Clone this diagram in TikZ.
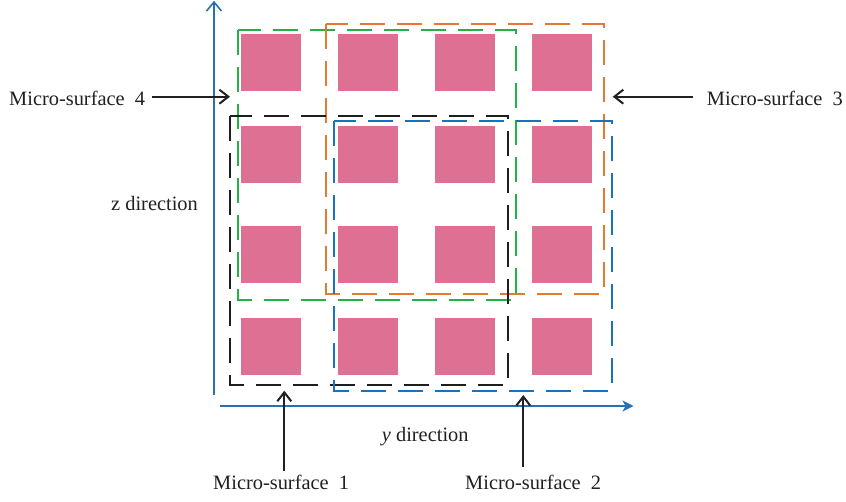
\documentclass[tikz,border=0pt]{standalone}
\usepackage{fontspec}
\setmainfont{Liberation Serif}
\usetikzlibrary{arrows.meta}
\definecolor{tilepink}{RGB}{222,112,147}
\definecolor{msgreen}{RGB}{36,178,72}
\definecolor{msorange}{RGB}{226,122,52}
\definecolor{msblue}{RGB}{24,114,190}
\definecolor{msblack}{RGB}{30,30,30}
\definecolor{axisblue}{RGB}{40,112,176}
\definecolor{inkgray}{RGB}{35,31,32}
\tikzset{
  tile/.style={fill=tilepink, draw=none, anchor=north west, inner sep=0pt,
               minimum width=60pt, minimum height=57.5pt},
  surf/.style={line width=2.2pt, dash pattern=on 25pt off 12pt},
  axisline/.style={draw=axisblue, line width=1.6pt},
  ptr/.style={draw=inkgray, line width=2pt,
              -{Straight Barb[length=9pt,width=14pt,line width=2pt]}},
  lbl/.style={text=inkgray, font=\fontsize{20.4}{24}\selectfont, inner sep=0pt}
}
\begin{document}
\begin{tikzpicture}[x=1pt,y=-1pt]
\useasboundingbox (0,0) rectangle (846,501);

% grid of cells
\foreach \c/\x in {1/241,2/338,3/435,4/532}{
  \foreach \r/\y in {1/33.3,2/125.7,3/225.7,4/317.7}{
    \node[tile] (t\r\c) at (\x,\y) {};
  }
}

% micro-surface windows
\draw[surf, msgreen]  (237.7,30)   rectangle (516,300);
\draw[surf, msorange] (326,24.3)   rectangle (604,294);
\draw[surf, msblack]  (229.7,115.7) rectangle (508,385);
\draw[surf, msblue]   (334,121.3)  rectangle (612.3,390.7);

% axes
\coordinate (zbase) at (214,395);
\coordinate (ztip)  at (214,0.8);
\coordinate (ybase) at (220,406);
\coordinate (ytip)  at (633.5,406);
\draw[axisline, -{Straight Barb[length=9pt,width=15pt,line width=1.6pt]}] (zbase) -- (ztip);
\draw[axisline, -{Stealth[length=11pt,width=11pt,inset=3pt]}] (ybase) -- (ytip);

\node[lbl, anchor=base west] (zlab) at (111,210) {z direction};
\node[lbl, anchor=base west] (ylab) at (381.7,441.7) {\textit{y} direction};

% labels and pointers
\node[lbl, anchor=base west] (m4) at (9,105.5) {Micro-surface\hspace{0.5em}4};
\node[lbl, anchor=base west] (m3) at (706.7,105.5) {Micro-surface\hspace{0.5em}3};
\node[lbl, anchor=base west] (m1) at (213,489.3) {Micro-surface\hspace{0.5em}1};
\node[lbl, anchor=base west] (m2) at (465,489.3) {Micro-surface\hspace{0.5em}2};

\coordinate (p4) at (230,96.7);
\coordinate (p3) at (612.7,96.7);
\coordinate (p1) at (284.3,390.7);
\coordinate (p2) at (523.3,395);

\draw[ptr, shorten <=7pt] (m4.east |- p4) -- (p4);
\draw[ptr, shorten <=13.5pt] (m3.west |- p3) -- (p3);
\draw[ptr, shorten <=3.5pt] (m1.north -| p1) -- (p1);
\draw[ptr, shorten <=7.5pt] (m2.north -| p2) -- (p2);
\end{tikzpicture}
\end{document}
